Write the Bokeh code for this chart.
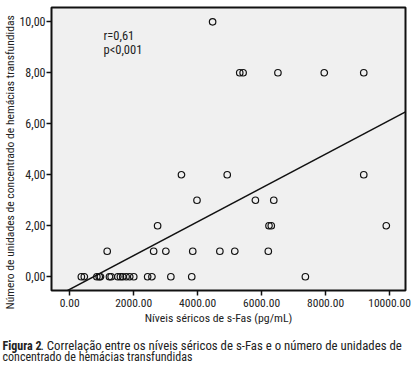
import numpy as np
from bokeh.plotting import figure
from bokeh.models import Label, Title, FixedTicker, ColumnDataSource, Range1d
from bokeh.layouts import column, row
from bokeh.embed import file_html
from bokeh.resources import INLINE

# ---- data ----
sfas_levels = [364, 457, 849, 923, 963, 1243, 1296, 1505, 1585, 1660, 1763, 1877,
               2002, 2437, 2571, 3162, 3815, 7367,
               1172, 2624, 3006, 3846, 4694, 5161, 6208,
               2748, 6230, 6301, 9897,
               3979, 5804, 6379,
               3494, 4924, 9192,
               5315, 5421, 6509, 7958, 9192,
               4467]
units_transfused = [0, 0, 0, 0, 0, 0, 0, 0, 0, 0, 0, 0,
                    0, 0, 0, 0, 0, 0,
                    1, 1, 1, 1, 1, 1, 1,
                    2, 2, 2, 2,
                    3, 3, 3,
                    4, 4, 4,
                    8, 8, 8, 8, 8,
                    10]
x_ticks = [0, 2000, 4000, 6000, 8000, 10000]
x_tick_labels = ["0.00", "2000.00", "4000.00", "6000.00", "8000.00", "10000.00"]
y_ticks = [0, 2, 4, 6, 8, 10]
y_tick_labels = ["0,00", "2,00", "4,00", "6,00", "8,00", "10,00"]
stat_lines = ["r=0,61", "p<0,001"]
x_title = "Níveis séricos de s-Fas (pg/mL)"
y_title = "Número de unidades de concentrado de hemácias transfundidas"
caption_bold = "Figura 2"
caption_rest = ". Correlação entre os níveis séricos de s-Fas e o número de unidades de"
caption_line2 = "concentrado de hemácias transfundidas"

FONT = "Roboto Condensed"
TXT = "#222222"

x_range = Range1d(-569, 10497)
y_range = Range1d(-0.54, 10.56)

p = figure(width=412, height=312, output_backend="svg", toolbar_location=None,
           x_range=x_range, y_range=y_range,
           min_border_left=49, min_border_right=7, min_border_top=7, min_border_bottom=22,
           background_fill_color="#f0f0f0", border_fill_color="white",
           outline_line_color="#111111", outline_line_width=2)
p.grid.visible = False

for ax in (p.xaxis[0], p.yaxis[0]):
    ax.axis_line_color = None
    ax.major_tick_out = 5
    ax.major_tick_in = 0
    ax.minor_tick_out = 0
    ax.minor_tick_in = 0
    ax.major_tick_line_width = 1.5
    ax.major_tick_line_color = "#111111"
    ax.major_label_text_color = TXT
    ax.major_label_text_font = FONT

p.xaxis[0].ticker = FixedTicker(ticks=x_ticks)
p.xaxis[0].major_label_overrides = {t: l for t, l in zip(x_ticks, x_tick_labels)}
p.xaxis[0].major_label_text_font_size = "11.5px"
p.xaxis[0].major_label_standoff = 3

p.yaxis[0].ticker = FixedTicker(ticks=y_ticks)
p.yaxis[0].major_label_overrides = {t: l for t, l in zip(y_ticks, y_tick_labels)}
p.yaxis[0].major_label_text_font_size = "12px"
p.yaxis[0].major_label_standoff = 1

# y-axis title in the left panel, shifted slightly below the frame centre
p.add_layout(Title(text=y_title, align="left", offset=-19, standoff=0,
                   vertical_align="bottom", text_font=FONT, text_font_size="11.6px",
                   text_font_style="normal", text_color=TXT), "left")

src = ColumnDataSource(data=dict(x=sfas_levels, y=units_transfused))

# regression line computed from the data
slope, intercept = np.polyfit(np.array(sfas_levels, float), np.array(units_transfused, float), 1)
lx = [x_range.start, x_range.end]
p.line(x=lx, y=[intercept + slope * v for v in lx], line_color="#111111", line_width=1.5)

p.scatter(x="x", y="y", source=src, marker="circle", size=6.5,
          fill_color=None, line_color="#111111", line_width=1.2)

# stats text (frame-relative screen units)
p.add_layout(Label(x=52, y=248, x_units="screen", y_units="screen", text=stat_lines[0],
                   text_font=FONT, text_font_size="12.5px", text_color=TXT))
p.add_layout(Label(x=52, y=234, x_units="screen", y_units="screen", text=stat_lines[1],
                   text_font=FONT, text_font_size="12.5px", text_color=TXT))

# x-axis title and caption strip
cap = figure(width=412, height=55, output_backend="svg", toolbar_location=None,
             x_range=Range1d(0, 412), y_range=Range1d(0, 55),
             min_border_left=0, min_border_right=0, min_border_top=0, min_border_bottom=0,
             outline_line_color=None, background_fill_color="white",
             border_fill_color="white")
cap.axis.visible = False
cap.grid.visible = False
cap.add_layout(Label(x=218, y=43, x_units="screen", y_units="screen", text=x_title,
                     text_align="center", text_font=FONT, text_font_size="11.8px",
                     text_color=TXT))
cap.add_layout(Label(x=2, y=15, x_units="screen", y_units="screen", text=caption_bold,
                     text_font=FONT, text_font_size="12px", text_font_style="bold",
                     text_color=TXT))
cap.add_layout(Label(x=40, y=15, x_units="screen", y_units="screen", text=caption_rest,
                     text_font=FONT, text_font_size="12.8px", text_color=TXT))
cap.add_layout(Label(x=2, y=4, x_units="screen", y_units="screen", text=caption_line2,
                     text_font=FONT, text_font_size="12px", text_color=TXT))

layout = column(row(p, spacing=0), cap, spacing=0)
open("out.html", "w").write(file_html(layout, INLINE))
